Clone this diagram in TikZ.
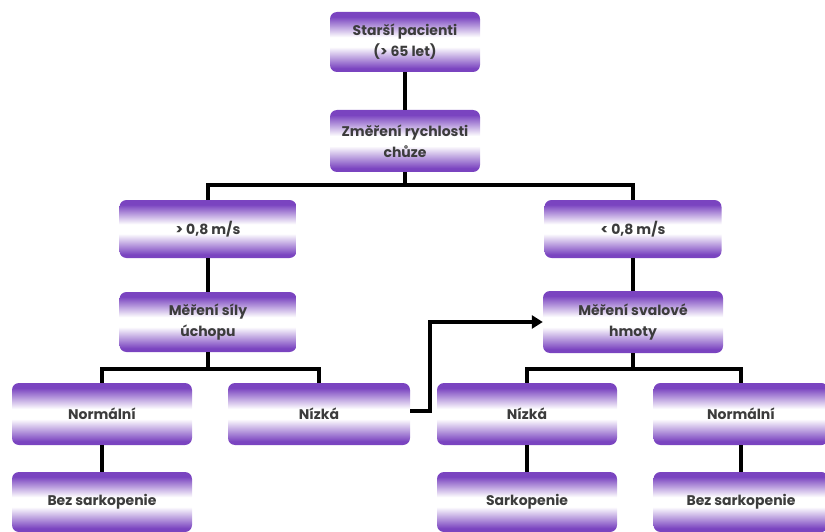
\documentclass[tikz,border=0pt]{standalone}
\usepackage{fontspec}
\setmainfont{Poppins}
\usetikzlibrary{arrows.meta}
\definecolor{vio}{RGB}{122,68,192}
\definecolor{txt}{RGB}{60,60,60}
\pgfdeclareverticalshading{boxshade}{100bp}{color(0bp)=(vio); color(28bp)=(vio); color(46bp)=(white); color(54bp)=(white); color(71bp)=(vio); color(100bp)=(vio)}
\begin{document}
\begin{tikzpicture}[x=1pt,y=-1pt,
  box/.style={rounded corners=7pt, shading=boxshade, draw=none, align=center,
    font=\bfseries\fontsize{14}{21}\selectfont, text=txt, inner sep=0pt},
  conn/.style={line width=4pt, black},
  arr/.style={conn, -{Triangle[length=11pt,width=13pt]}}]
\useasboundingbox (0,0) rectangle (825,532);
\node[box, minimum width=150pt, minimum height=60pt] (p) at (405,42) {Starší pacienti\\(> 65 let)};
\node[box, minimum width=150pt, minimum height=62pt] (z) at (405,141) {Změření rychlosti\\chůze};
\node[box, minimum width=177pt, minimum height=58pt] (l) at (208,229) {> 0,8 m/s};
\node[box, minimum width=177pt, minimum height=58pt] (r) at (633,229) {< 0,8 m/s};
\node[box, minimum width=177pt, minimum height=60pt] (u) at (208,322) {Měření síly\\úchopu};
\node[box, minimum width=180pt, minimum height=62pt] (h) at (633,322) {Měření svalové\\hmoty};
\node[box, minimum width=180pt, minimum height=62pt] (ln) at (102,414) {Normální};
\node[box, minimum width=182pt, minimum height=62pt] (lz) at (319,414) {Nízká};
\node[box, minimum width=180pt, minimum height=60pt] (lb) at (102,502) {Bez sarkopenie};
\node[box, minimum width=180pt, minimum height=62pt] (rz) at (527,414) {Nízká};
\node[box, minimum width=175pt, minimum height=62pt] (rn) at (741,414) {Normální};
\node[box, minimum width=180pt, minimum height=60pt] (rs) at (527,502) {Sarkopenie};
\node[box, minimum width=175pt, minimum height=60pt] (rb) at (741,502) {Bez sarkopenie};
\draw[conn] (p.south) -- (z.north);
\draw[conn] (z.south) -- ++(0,13) coordinate (zs) -| (l.north);
\draw[conn] (zs) -| (r.north);
\draw[conn] (l.south) -- (u.north);
\draw[conn] (r.south) -- (h.north);
\draw[conn] (u.south) -- ++(0,17) coordinate (us) -| (ln.north);
\draw[conn] (us) -| (lz.north);
\draw[conn] (h.south) -- ++(0,16) coordinate (hs) -| (rz.north);
\draw[conn] (hs) -| (rn.north);
\draw[conn] (ln.south) -- (lb.north);
\draw[conn] (rz.south) -- (rs.north);
\draw[conn] (rn.south) -- (rb.north);
\draw[arr] (lz.east) ++(0,-3) -- ++(20,0) |- (h.west);
\end{tikzpicture}
\end{document}
